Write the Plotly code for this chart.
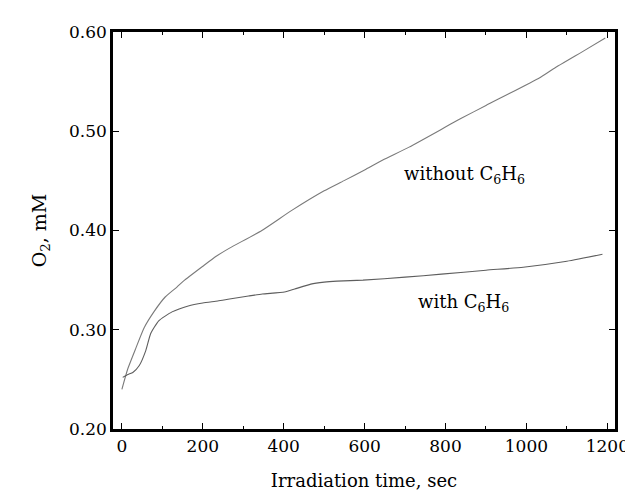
import plotly.graph_objects as go

# Curve without benzene
t_without = [0, 14, 35, 55, 79, 107, 136, 152, 200, 233, 265, 346, 419, 500,
             548, 600, 645, 710, 839, 900, 1033, 1067, 1146, 1195]
o2_without = [0.240, 0.260, 0.282, 0.302, 0.318, 0.333, 0.343, 0.349, 0.364,
              0.374, 0.382, 0.400, 0.420, 0.440, 0.450, 0.461, 0.471, 0.484,
              0.513, 0.526, 0.554, 0.563, 0.582, 0.594]

# Curve with benzene
t_with = [2, 15, 27, 43, 59, 71, 91, 124, 164, 200, 237, 266, 313, 347, 402,
          427, 467, 500, 532, 596, 700, 790, 900, 992, 1100, 1188]
o2_with = [0.252, 0.255, 0.257, 0.264, 0.279, 0.296, 0.309, 0.318, 0.324, 0.327,
           0.329, 0.331, 0.334, 0.336, 0.338, 0.341, 0.346, 0.348, 0.349,
           0.350, 0.353, 0.356, 0.360, 0.363, 0.369, 0.376]

x_ticks = [0, 200, 400, 600, 800, 1000, 1200]
y_ticks = [0.20, 0.30, 0.40, 0.50, 0.60]
y_tick_labels = ["0.20", "0.30", "0.40", "0.50", "0.60"]

label_without = "without C<sub>6</sub>H<sub>6</sub>"
label_with = "with C<sub>6</sub>H<sub>6</sub>"

FONT = "DejaVu Serif"

fig = go.Figure()
fig.add_trace(go.Scatter(x=t_without, y=o2_without, mode="lines",
                         line=dict(color="#7a7a7a", width=1.1, shape="spline", smoothing=0.5),
                         showlegend=False))
fig.add_trace(go.Scatter(x=t_with, y=o2_with, mode="lines",
                         line=dict(color="#5e5e5e", width=1.1, shape="spline", smoothing=0.5),
                         showlegend=False))

fig.add_annotation(x=848, y=0.456, text=label_without, showarrow=False,
                   xanchor="center", yanchor="middle",
                   font=dict(family=FONT, size=18, color="black"))
fig.add_annotation(x=844, y=0.327, text=label_with, showarrow=False,
                   xanchor="center", yanchor="middle",
                   font=dict(family=FONT, size=18, color="black"))

axis_common = dict(showline=True, linecolor="black", linewidth=2.5, mirror="ticks",
                   ticks="inside", tickcolor="black", tickwidth=1, ticklen=6,
                   showgrid=False, zeroline=False,
                   tickfont=dict(family=FONT, size=17, color="black"))

fig.update_xaxes(range=[-22, 1219], tickvals=x_ticks,
                 ticktext=[str(v) for v in x_ticks],
                 minor=dict(ticks="inside", dtick=100, ticklen=3, tickcolor="black"),
                 title=dict(text="Irradiation time, sec", standoff=20,
                            font=dict(family=FONT, size=18, color="black")),
                 **axis_common)
fig.update_yaxes(range=[0.20, 0.60], tickvals=y_ticks, ticktext=y_tick_labels,
                 title=dict(text="O<sub>2</sub>, mM", standoff=18,
                            font=dict(family=FONT, size=19, color="black")),
                 **axis_common)

fig.update_layout(width=633, height=494,
                  margin=dict(l=105, r=16, t=24, b=73),
                  plot_bgcolor="white", paper_bgcolor="white")

fig.write_html("out.html")
